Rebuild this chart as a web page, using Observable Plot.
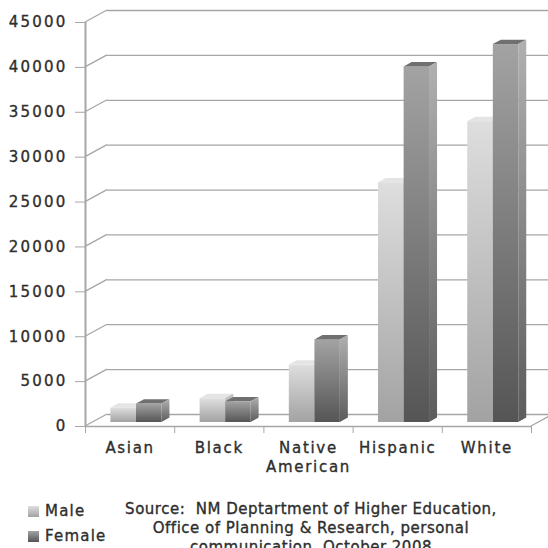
<!DOCTYPE html>
<html>
<head>
<meta charset="utf-8">
<script src="https://cdn.jsdelivr.net/npm/d3@7"></script>
<script src="https://cdn.jsdelivr.net/npm/@observablehq/plot@0.6"></script>
<style>
  html, body { margin: 0; padding: 0; background: #fff; }
  body { width: 548px; height: 548px; overflow: hidden; position: relative;
         font-family: "DejaVu Sans", sans-serif; color: #2e2e2e; }
  #chart { position: absolute; left: 0; top: 0; }
  #chart svg text { letter-spacing: 1.7px; stroke: #2e2e2e; stroke-width: 0.35px; }
  #chart svg g[aria-label="y-axis tick label"] text { letter-spacing: 2.2px; }
  .legend { position: absolute; left: 28px; font-size: 15px; letter-spacing: 1.2px; line-height: 19px;
            -webkit-text-stroke: 0.35px #2e2e2e; }
  .legend span.sw { display: inline-block; width: 11px; height: 11px; margin-right: 6px; vertical-align: -1px;
                    -webkit-text-stroke: 0; }
  .source { position: absolute; left: 61px; width: 500px; top: 500px; text-align: center;
            font-size: 15px; line-height: 19px; letter-spacing: 0.5px; white-space: nowrap;
            -webkit-text-stroke: 0.35px #2e2e2e; }
</style>
</head>
<body>
<svg width="0" height="0" style="position:absolute">
  <defs>
    <linearGradient id="gMale" x1="0" y1="0" x2="0" y2="1">
      <stop offset="0" stop-color="#dedede"/><stop offset="1" stop-color="#a2a2a2"/>
    </linearGradient>
    <linearGradient id="gFemale" x1="0" y1="0" x2="0" y2="1">
      <stop offset="0" stop-color="#a3a3a3"/><stop offset="1" stop-color="#555555"/>
    </linearGradient>
    <linearGradient id="gSide" x1="0" y1="0" x2="0" y2="1">
      <stop offset="0" stop-color="#b0b0b0"/><stop offset="1" stop-color="#5c5c5c"/>
    </linearGradient>
  </defs>
</svg>
<div id="chart"></div>
<div class="legend" style="top:502px"><span class="sw" style="background:linear-gradient(#dedede,#a2a2a2)"></span>Male</div>
<div class="legend" style="top:527px"><span class="sw" style="background:linear-gradient(#a3a3a3,#555)"></span>Female</div>
<div class="source">Source:&nbsp; NM Deptartment of Higher Education,<br>Office of Planning &amp; Research, personal<br>communication, October 2008</div>
<script>
// Enrollment by ethnicity and sex
const categories = ["Asian", "Black", "Native\nAmerican", "Hispanic", "White"];
const series = ["Male", "Female"];
const maleValues = [1600, 2650, 6400, 26700, 33500];
const femaleValues = [2050, 2300, 9200, 39600, 42100];
const yTicks = [0, 5000, 10000, 15000, 20000, 25000, 30000, 35000, 40000, 45000];

const rows = categories.flatMap((c, i) => [
  {category: c, index: i, sex: series[0], value: maleValues[i]},
  {category: c, index: i, sex: series[1], value: femaleValues[i]}
]);
const male = rows.filter(d => d.sex === "Male");
const female = rows.filter(d => d.sex === "Female");

// pseudo-3D geometry (pixels)
const wallDepth = [22, -12];   // back wall offset from the front axis
const barDepth = [8, -4.4];    // depth of each column
const barLift = -4;            // columns stand a little behind the front edge

// horizontal placement of each column inside its category slot
const slot = {Male: [0.285, 0.572], Female: [0.572, 0.857]};
const bx1 = d => d.index + slot[d.sex][0];
const bx2 = d => d.index + slot[d.sex][1];

const gray = "#a6a6a6";

// diagonal joins between the front axis and the back wall, plus floor edge
function wallJoins(index, scales) {
  const {x, y} = scales;
  const g = d3.create("svg:g").attr("stroke", gray).attr("stroke-width", 1.3).attr("fill", "none");
  for (const v of yTicks) {
    g.append("line")
      .attr("x1", x(0)).attr("y1", y(v))
      .attr("x2", x(0) + wallDepth[0]).attr("y2", y(v) + wallDepth[1]);
  }
  g.append("line")
    .attr("x1", x(5)).attr("y1", y(0))
    .attr("x2", x(5) + wallDepth[0]).attr("y2", y(0) + wallDepth[1]);
  return g.node();
}

// top and side faces of the columns
function faces(data, topFill, sideFill) {
  return (index, scales) => {
    const {x, y} = scales;
    const [dx, dy] = barDepth;
    const g = d3.create("svg:g");
    for (const d of data) {
      const x1 = x(bx1(d)), x2 = x(bx2(d));
      const yt = y(d.value) + barLift, yb = y(0) + barLift;
      g.append("polygon")
        .attr("points", [[x1, yt], [x2, yt], [x2 + dx, yt + dy], [x1 + dx, yt + dy]].join(" "))
        .attr("fill", topFill);
      g.append("polygon")
        .attr("points", [[x2, yt], [x2 + dx, yt + dy], [x2 + dx, yb + dy], [x2, yb]].join(" "))
        .attr("fill", sideFill);
    }
    return g.node();
  };
}

const chart = Plot.plot({
  width: 548,
  height: 476,
  marginLeft: 85,
  marginRight: 17,
  marginTop: 22,
  marginBottom: 50,
  style: {fontFamily: "DejaVu Sans", fontSize: "15px", color: "#2e2e2e", background: "transparent", overflow: "hidden"},
  x: {type: "linear", domain: [0, 5], axis: null},
  y: {domain: [0, 45000], axis: null},
  marks: [
    // back wall grid
    Plot.ruleY(yTicks, {x1: 0, x2: 5, dx: wallDepth[0], dy: wallDepth[1], stroke: gray, strokeWidth: 1.3}),
    wallJoins,
    // front axis lines
    Plot.ruleX([0], {stroke: gray, strokeWidth: 2}),
    Plot.ruleY([0], {stroke: gray, strokeWidth: 1.5}),
    Plot.axisY({ticks: yTicks, tickSize: 10, tickPadding: 8, tickFormat: d => String(d), label: null,
                stroke: gray, fontSize: 15, fill: "#2e2e2e"}),
    Plot.axisX({ticks: [0, 1, 2, 3, 4, 5], tickSize: 7, tickFormat: () => "", label: null, stroke: gray}),
    // columns
    Plot.rectY(male, {x1: bx1, x2: bx2, y1: 0, y2: "value", dy: barLift, fill: "url(#gMale)"}),
    faces(male, "#e4e4e4", "#bdbdbd"),
    Plot.rectY(female, {x1: bx1, x2: bx2, y1: 0, y2: "value", dy: barLift, fill: "url(#gFemale)"}),
    faces(female, "#707070", "url(#gSide)"),
    // category labels
    Plot.text(categories, {x: (d, i) => i + 0.5, y: 0, text: d => d, dy: 13, lineAnchor: "top",
                           lineHeight: 1.27, fontSize: 15, fill: "#2e2e2e"})
  ]
});
document.getElementById("chart").append(chart);
</script>
</body>
</html>
